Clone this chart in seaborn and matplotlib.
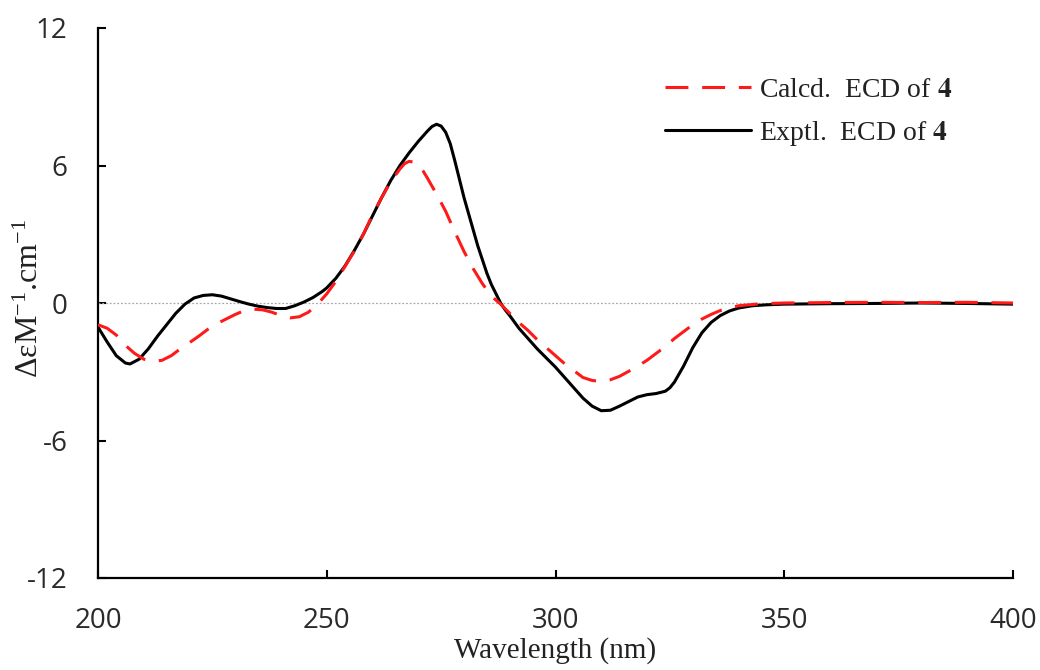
import numpy as np
import pandas as pd
import matplotlib
matplotlib.use("Agg")
import matplotlib.pyplot as plt
import seaborn as sns

# ---- data ----
expt_nm = [200, 202, 204, 206, 207, 209, 211, 213, 215, 217, 219, 221, 223, 225, 227, 229,
           231, 233, 235, 237, 239, 241, 243, 245, 247, 249, 250, 252, 254, 256, 258, 260,
           262, 264, 266, 268, 270, 272, 273, 274, 275, 276, 277, 278, 279, 280, 281, 282,
           283, 284, 285, 286, 287, 288, 289, 290, 292, 294, 296, 298, 300, 302, 304, 306,
           308, 310, 312, 314, 316, 318, 320, 322, 324, 325, 326, 328, 330, 332, 334, 336,
           338, 340, 343, 346, 350, 360, 370, 380, 390, 400]
expt_val = [-1.05, -1.7, -2.3, -2.62, -2.66, -2.45, -2.0, -1.45, -0.95, -0.45, -0.05, 0.22,
            0.33, 0.36, 0.3, 0.18, 0.06, -0.05, -0.14, -0.2, -0.24, -0.24, -0.12, 0.04, 0.24,
            0.5, 0.66, 1.08, 1.62, 2.28, 3.0, 3.8, 4.6, 5.35, 6.0, 6.55, 7.05, 7.5, 7.7, 7.8,
            7.72, 7.45, 6.95, 6.2, 5.4, 4.6, 3.9, 3.2, 2.5, 1.9, 1.3, 0.8, 0.4, 0.0, -0.3, -0.55,
            -1.1, -1.55, -2.0, -2.4, -2.8, -3.25, -3.7, -4.15, -4.5, -4.7, -4.68, -4.5, -4.3,
            -4.1, -4.0, -3.95, -3.85, -3.7, -3.45, -2.75, -1.95, -1.3, -0.85, -0.55, -0.35,
            -0.22, -0.12, -0.08, -0.05, -0.03, -0.02, 0.0, -0.02, -0.05]

calc_nm = [200, 202, 204, 206, 208, 210, 212, 214, 216, 218, 220, 222, 224, 226, 228, 230,
           232, 234, 236, 238, 240, 242, 244, 246, 248, 250, 252, 254, 256, 258, 260, 262,
           264, 266, 267, 268, 269, 270, 271, 272, 274, 276, 278, 280, 282, 284, 286, 288, 290,
           292, 294, 296, 298, 300, 302, 304, 306, 308, 310, 312, 314, 316, 318, 320, 322,
           324, 326, 328, 330, 332, 334, 336, 338, 340, 345, 350, 360, 370, 380, 390, 400]
calc_val = [-0.95, -1.1, -1.4, -1.85, -2.2, -2.45, -2.55, -2.5, -2.3, -2.0, -1.73, -1.45,
            -1.15, -0.9, -0.7, -0.5, -0.33, -0.27, -0.3, -0.4, -0.55, -0.65, -0.6, -0.4,
            -0.05, 0.4, 0.95, 1.6, 2.25, 3.0, 3.85, 4.6, 5.3, 5.85, 6.08, 6.18, 6.15, 6.02,
            5.78, 5.45, 4.75, 4.0, 3.1, 2.25, 1.5, 0.85, 0.3, -0.05, -0.45, -0.85, -1.2, -1.6,
            -1.95, -2.3, -2.65, -2.95, -3.25, -3.38, -3.42, -3.35, -3.2, -2.98, -2.75, -2.5,
            -2.2, -1.9, -1.55, -1.25, -0.95, -0.7, -0.5, -0.33, -0.22, -0.12, -0.03, 0.0, 0.02,
            0.03, 0.02, 0.03, 0.0]

x_ticks = [200, 250, 300, 350, 400]
y_ticks = [-12, -6, 0, 6, 12]
label_calc = r"Calcd.  ECD of $\mathbf{4}$"
label_expt = r"Exptl.  ECD of $\mathbf{4}$"

df_calc = pd.DataFrame({"nm": calc_nm, "val": calc_val})
df_expt = pd.DataFrame({"nm": expt_nm, "val": expt_val})

sns.set_theme(style="white")
plt.rcParams["font.family"] = ["Open Sans", "DejaVu Sans"]
plt.rcParams["mathtext.fontset"] = "stix"

fig = plt.figure(figsize=(10.4, 6.7), dpi=100)
ax = fig.add_axes([98 / 1040, 1 - 578 / 670, (1013 - 98) / 1040, (578 - 28) / 670])

ax.axhline(0, color="#a8a8a8", lw=0.9, ls=(0, (1.5, 1.5)), zorder=1)

sns.lineplot(data=df_calc, x="nm", y="val", ax=ax, color="#ff1a1a", lw=2.2,
             linestyle=(0, (7.5, 4.5)), label=label_calc, sort=False, zorder=3)
sns.lineplot(data=df_expt, x="nm", y="val", ax=ax, color="black", lw=2.2,
             label=label_expt, sort=False, zorder=2)

ax.set_xlim(200, 400)
ax.set_ylim(-12, 12)
ax.set_xticks(x_ticks)
ax.set_yticks(y_ticks)
ax.set_xticklabels([str(t) for t in x_ticks])
ax.set_yticklabels([str(t) for t in y_ticks])

for s in ["top", "right"]:
    ax.spines[s].set_visible(False)
for s in ["left", "bottom"]:
    ax.spines[s].set_color("black")
    ax.spines[s].set_linewidth(1.6)

ax.tick_params(axis="both", direction="in", length=6, width=1.5, color="black",
               labelsize=20, labelcolor="#2a2a2a", bottom=True, left=True)
ax.tick_params(axis="x", pad=21)
ax.tick_params(axis="y", pad=22)

serif = "Liberation Serif"
ax.set_xlabel("Wavelength (nm)", fontfamily=serif, fontsize=21, color="#222222")
ax.set_ylabel(r"Δε$\mathregular{M^{-1}}$.cm$\mathregular{^{-1}}$", fontfamily=serif,
              fontsize=23, color="#222222")
ax.xaxis.set_label_coords(0.5, (578 - 637) / 550)
ax.yaxis.set_label_coords((45 - 98) / 915, (578 - 298) / 550)

leg = ax.legend(loc="upper left", bbox_to_anchor=(0.6074, 0.93), frameon=False,
                handlelength=3.1, handletextpad=0.3, labelspacing=0.58,
                prop={"family": serif, "size": 20}, borderaxespad=0)
for t in leg.get_texts():
    t.set_color("#222222")

fig.savefig("out.png", dpi=100)
